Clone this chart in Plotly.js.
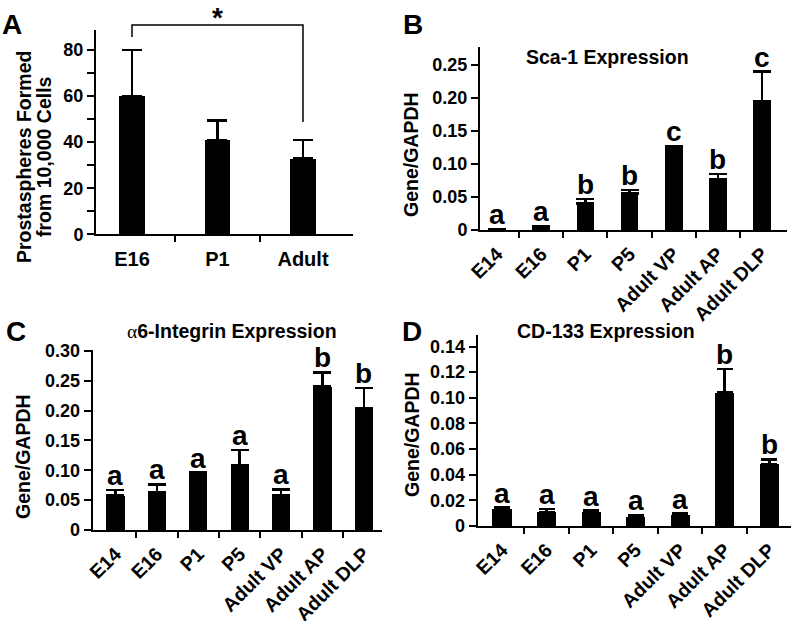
<!DOCTYPE html>
<html>
<head>
<meta charset="utf-8">
<script src="https://cdn.plot.ly/plotly-3.0.1.min.js"></script>
<style>html,body{margin:0;padding:0;background:#fff;}#chart{width:800px;height:621px;}</style>
</head>
<body>
<div id="chart"></div>
<script>
// ---------- data ----------
const catA = ['E16', 'P1', 'Adult'];
const valA = [60, 40.8, 32.8];
const errA = [20, 8.5, 8.1];
const tickValsA = [0, 20, 40, 60, 80];
const tickTextA = ['0', '20', '40', '60', '80'];

const catsBCD = ['E14', 'E16', 'P1', 'P5', 'Adult VP', 'Adult AP', 'Adult DLP'];

const sca1 = [0.001, 0.0035, 0.040, 0.0555, 0.122, 0.077, 0.195];
const sca1Err = [0.0005, 0.0025, 0.007, 0.005, 0.005, 0.008, 0.045];
const sca1Letters = ['a', 'a', 'b', 'b', 'c', 'b', 'c'];
const tickValsB = [0, 0.05, 0.10, 0.15, 0.20, 0.25];
const tickTextB = ['0', '0.05', '0.10', '0.15', '0.20', '0.25'];

const itg = [0.0575, 0.0625, 0.091, 0.109, 0.0586, 0.240, 0.204];
const itgErr = [0.0095, 0.014, 0.005, 0.025, 0.0094, 0.024, 0.034];
const itgLetters = ['a', 'a', 'a', 'a', 'a', 'b', 'b'];
const tickValsC = [0, 0.05, 0.10, 0.15, 0.20, 0.25, 0.30];
const tickTextC = ['0', '0.05', '0.10', '0.15', '0.20', '0.25', '0.30'];

const cd133 = [0.0133, 0.0107, 0.0107, 0.0073, 0.0086, 0.104, 0.0484];
const cd133Err = [0.001, 0.0026, 0.0013, 0.001, 0.001, 0.0186, 0.0036];
const cd133Letters = ['a', 'a', 'a', 'a', 'a', 'b', 'b'];
const tickValsD = [0, 0.02, 0.04, 0.06, 0.08, 0.10, 0.12, 0.14];
const tickTextD = ['0', '0.02', '0.04', '0.06', '0.08', '0.10', '0.12', '0.14'];

// ---------- helpers ----------
const W = 800, H = 621;
const px = v => v / W;
const py = v => 1 - v / H;
const FAM = 'Liberation Sans, Arial, Helvetica, sans-serif';
const idx = arr => arr.map((_, i) => i);
const zeros = arr => arr.map(() => 0);
const bounds = arr => arr.slice(1).map((_, i) => i + 0.5);

function barTrace(cats, vals, errs, xa, ya, width, capW) {
  return {
    type: 'bar', x: idx(cats), y: vals, xaxis: xa, yaxis: ya,
    width: width, marker: {color: '#000', line: {width: 0}},
    error_y: {type: 'data', symmetric: false, array: errs, arrayminus: zeros(errs),
              color: '#000', thickness: 2.6, width: capW},
    hoverinfo: 'skip', showlegend: false
  };
}

function xAxis(cats, domain, range, anchor, angle) {
  return {
    domain: domain, range: range, anchor: anchor,
    tickmode: 'array', tickvals: idx(cats), ticktext: cats,
    ticks: 'outside', ticklen: angle ? 3 : 6, tickcolor: 'rgba(0,0,0,0)',
    tickangle: angle,
    tickfont: {family: FAM, size: angle ? 19.5 : 20, weight: 'bold', color: '#000'},
    minor: {tickmode: 'array', tickvals: bounds(cats), ticks: 'outside', ticklen: 6,
            tickwidth: 2, tickcolor: '#000'},
    showline: true, linewidth: 2, linecolor: '#000',
    showgrid: false, zeroline: false, fixedrange: true
  };
}

function yAxis(domain, range, anchor, tv, tt, minorDtick) {
  const ax = {
    domain: domain, range: range, anchor: anchor,
    tickmode: 'array', tickvals: tv, ticktext: tt,
    ticks: 'outside', ticklen: 7, tickwidth: 2, tickcolor: '#000',
    tickfont: {family: FAM, size: 18, weight: 'bold', color: '#000'},
    showline: true, linewidth: 2, linecolor: '#000',
    showgrid: false, zeroline: false, fixedrange: true
  };
  if (minorDtick) ax.minor = {dtick: minorDtick, ticks: 'outside', ticklen: 7, tickwidth: 2, tickcolor: '#000'};
  return ax;
}

function letterAnns(cats, vals, errs, letters, xref, yref) {
  return cats.map((_, i) => ({
    x: i, y: vals[i] + errs[i], xref: xref, yref: yref,
    text: letters[i], showarrow: false, xanchor: 'center', yanchor: 'bottom', yshift: -3,
    font: {family: FAM, size: 28, weight: 'bold', color: '#000'}
  }));
}

function txt(text, x, y, size, extra) {
  return Object.assign({
    text: text, x: px(x), y: py(y), xref: 'paper', yref: 'paper',
    showarrow: false, xanchor: 'center', yanchor: 'middle',
    font: {family: FAM, size: size, weight: 'bold', color: '#000'}
  }, extra || {});
}

// ---------- traces ----------
const data = [
  barTrace(catA, valA, errA, 'x', 'y', 0.30, 10),
  barTrace(catsBCD, sca1, sca1Err, 'x2', 'y2', 0.40, 9),
  barTrace(catsBCD, itg, itgErr, 'x3', 'y3', 0.44, 9),
  barTrace(catsBCD, cd133, cd133Err, 'x4', 'y4', 0.43, 8)
];

// ---------- layout ----------
const layout = {
  width: W, height: H,
  margin: {l: 0, r: 0, t: 0, b: 0},
  paper_bgcolor: '#fff', plot_bgcolor: '#fff',
  font: {family: FAM, color: '#000'},
  showlegend: false,
  bargap: 0,
  xaxis: xAxis(catA, [px(96), px(353)], [-0.421, 2.585], 'y', 0),
  yaxis: yAxis([py(234.3), py(30)], [0, 88.7], 'x', tickValsA, tickTextA, 10),
  xaxis2: xAxis(catsBCD, [px(480), px(787)], [-0.385, 6.566], 'y2', -45),
  yaxis2: yAxis([py(230), py(47)], [0, 0.2775], 'x2', tickValsB, tickTextB),
  xaxis3: xAxis(catsBCD, [px(92.7), px(381.7)], [-0.55, 6.43], 'y3', -45),
  yaxis3: yAxis([py(530), py(350)], [0, 0.3015], 'x3', tickValsC, tickTextC),
  xaxis4: xAxis(catsBCD, [px(477.7), px(790.7)], [-0.545, 6.48], 'y4', -45),
  yaxis4: yAxis([py(526), py(335)], [0, 0.149], 'x4', tickValsD, tickTextD),
  shapes: [
    // significance bracket in panel A (x follows the category axis)
    {type: 'path', xref: 'x', yref: 'paper',
     path: 'M 0,' + py(37) + ' L 0,' + py(25) + ' L 2,' + py(25) + ' L 2,' + py(122),
     line: {color: '#000', width: 1.5}}
  ],
  annotations: [
    {text: '*', x: 1, xref: 'x', y: py(0), yref: 'paper', showarrow: false,
     xanchor: 'center', yanchor: 'top',
     font: {family: FAM, size: 28, weight: 'bold', color: '#000'}},
    txt('A', 12, 25, 28),
    txt('B', 413, 25, 28),
    txt('C', 16, 331, 28),
    txt('D', 412, 331, 28),
    txt('Sca-1 Expression', 607, 57, 19.5),
    txt('<span style="font-family:Liberation Serif;font-weight:normal">\u03b1</span>6-Integrin Expression', 232, 331, 19.5),
    txt('CD-133 Expression', 606, 331, 19.5),
    txt('Prostaspheres Formed', 24, 157, 19.5, {textangle: -90}),
    txt('from 10,000 Cells', 44, 157, 19.5, {textangle: -90}),
    txt('Gene/GAPDH', 411, 155, 19.5, {textangle: -90}),
    txt('Gene/GAPDH', 23, 457, 19.5, {textangle: -90}),
    txt('Gene/GAPDH', 412, 435, 19.5, {textangle: -90})
  ].concat(
    letterAnns(catsBCD, sca1, sca1Err, sca1Letters, 'x2', 'y2'),
    letterAnns(catsBCD, itg, itgErr, itgLetters, 'x3', 'y3'),
    letterAnns(catsBCD, cd133, cd133Err, cd133Letters, 'x4', 'y4')
  )
};

Plotly.newPlot('chart', data, layout, {displayModeBar: false, staticPlot: true});
</script>
</body>
</html>
